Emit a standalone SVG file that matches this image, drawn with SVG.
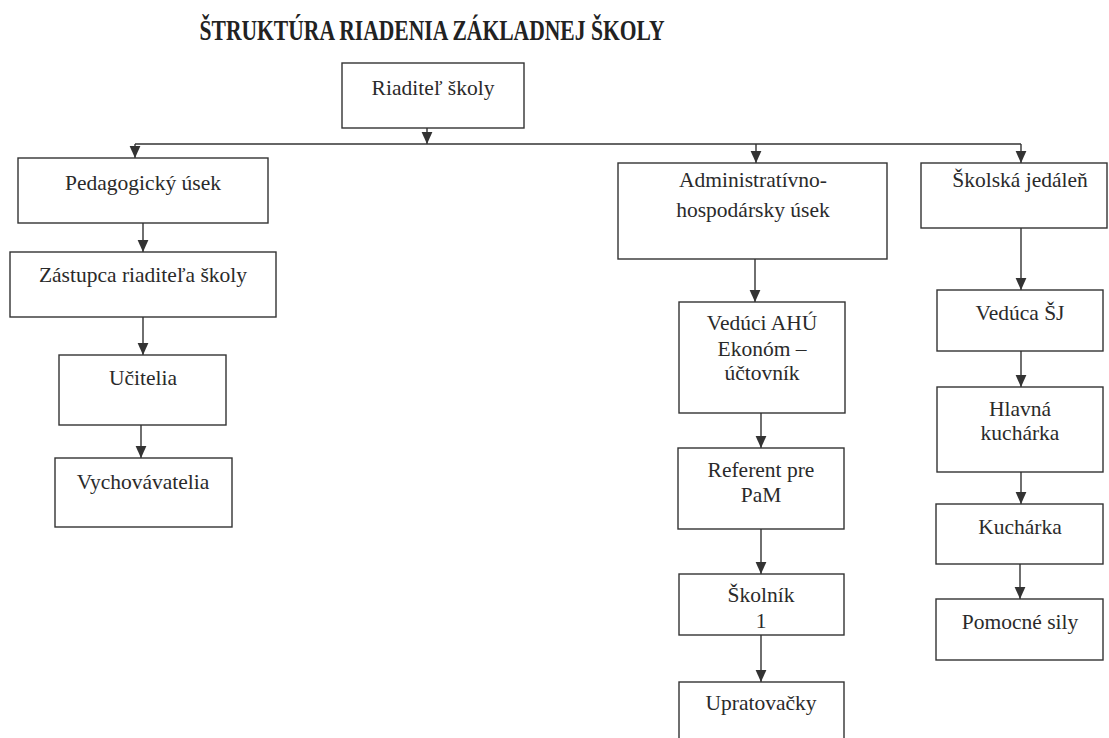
<svg xmlns="http://www.w3.org/2000/svg" width="1109" height="738" viewBox="0 0 1109 738">
<style>
.box{fill:#fff;stroke:#333;stroke-width:1.4}
.t{font-family:"Liberation Serif","Times New Roman",serif;font-size:21.5px;fill:#2a2a2a;text-anchor:middle}
.title{font-family:"Liberation Serif","Times New Roman",serif;font-size:30px;font-weight:bold;fill:#222;text-anchor:middle}
.c{fill:none;stroke:#333;stroke-width:1.4}
</style>
<defs>
<marker id="ah" markerUnits="userSpaceOnUse" markerWidth="12" markerHeight="12" refX="10" refY="5" orient="auto" viewBox="0 0 10 10">
<path d="M0,0.5 L10,5 L0,9.5 Z" fill="#333"/>
</marker>
</defs>
<rect width="1109" height="738" fill="#fff"/>
<text class="title" x="432" y="40" textLength="465" lengthAdjust="spacingAndGlyphs">ŠTRUKTÚRA RIADENIA ZÁKLADNEJ ŠKOLY</text>

<g id="connectors">
<path class="c" d="M427,128 V144" marker-end="url(#ah)"/>
<path class="c" d="M135,144 H1021"/>
<path class="c" d="M135,144 V158" marker-end="url(#ah)"/>
<path class="c" d="M756,144 V163" marker-end="url(#ah)"/>
<path class="c" d="M1021,144 V163" marker-end="url(#ah)"/>
<path class="c" d="M143,223 V252" marker-end="url(#ah)"/>
<path class="c" d="M143,317 V355" marker-end="url(#ah)"/>
<path class="c" d="M141,425 V458" marker-end="url(#ah)"/>
<path class="c" d="M755,259 V302" marker-end="url(#ah)"/>
<path class="c" d="M761,413 V448" marker-end="url(#ah)"/>
<path class="c" d="M761,529 V574" marker-end="url(#ah)"/>
<path class="c" d="M761,635 V682" marker-end="url(#ah)"/>
<path class="c" d="M1021,228 V290" marker-end="url(#ah)"/>
<path class="c" d="M1021,351 V387" marker-end="url(#ah)"/>
<path class="c" d="M1021,472 V504" marker-end="url(#ah)"/>
<path class="c" d="M1020,564 V599" marker-end="url(#ah)"/>
</g>

<g id="riaditel"><rect class="box" x="342" y="63" width="182" height="65"/><text class="t" x="433" y="95">Riaditeľ školy</text></g>
<g id="pedagogicky"><rect class="box" x="18" y="158" width="250" height="65"/><text class="t" x="143" y="190">Pedagogický úsek</text></g>
<g id="zastupca"><rect class="box" x="10" y="252" width="266" height="65"/><text class="t" x="143" y="282">Zástupca riaditeľa školy</text></g>
<g id="ucitelia"><rect class="box" x="59" y="355" width="167" height="70"/><text class="t" x="143" y="385">Učitelia</text></g>
<g id="vychovavatelia"><rect class="box" x="55" y="458" width="177" height="69"/><text class="t" x="143" y="489">Vychovávatelia</text></g>

<g id="ahu"><rect class="box" x="618" y="163" width="269" height="96"/><text class="t" x="753" y="187">Administratívno-</text><text class="t" x="753" y="217">hospodársky úsek</text></g>
<g id="veduci-ahu"><rect class="box" x="679" y="302" width="166" height="111"/><text class="t" x="762" y="330">Vedúci AHÚ</text><text class="t" x="762" y="356">Ekonóm –</text><text class="t" x="762" y="380">účtovník</text></g>
<g id="referent"><rect class="box" x="678" y="448" width="166" height="81"/><text class="t" x="761" y="477">Referent pre</text><text class="t" x="761" y="502">PaM</text></g>
<g id="skolnik"><rect class="box" x="679" y="574" width="165" height="61"/><text class="t" x="761" y="602">Školník</text><text class="t" x="761" y="628">1</text></g>
<g id="upratovacky"><rect class="box" x="679" y="682" width="165" height="70"/><text class="t" x="761" y="710">Upratovačky</text></g>

<g id="jedalen"><rect class="box" x="921" y="163" width="186" height="65"/><text class="t" x="1020" y="187">Školská jedáleň</text></g>
<g id="veduca-sj"><rect class="box" x="937" y="290" width="166" height="61"/><text class="t" x="1020" y="320">Vedúca ŠJ</text></g>
<g id="hlavna"><rect class="box" x="937" y="387" width="166" height="85"/><text class="t" x="1020" y="416">Hlavná</text><text class="t" x="1020" y="440">kuchárka</text></g>
<g id="kucharka"><rect class="box" x="936" y="504" width="167" height="60"/><text class="t" x="1020" y="534">Kuchárka</text></g>
<g id="pomocne"><rect class="box" x="936" y="599" width="167" height="61"/><text class="t" x="1020" y="629">Pomocné sily</text></g>
</svg>
